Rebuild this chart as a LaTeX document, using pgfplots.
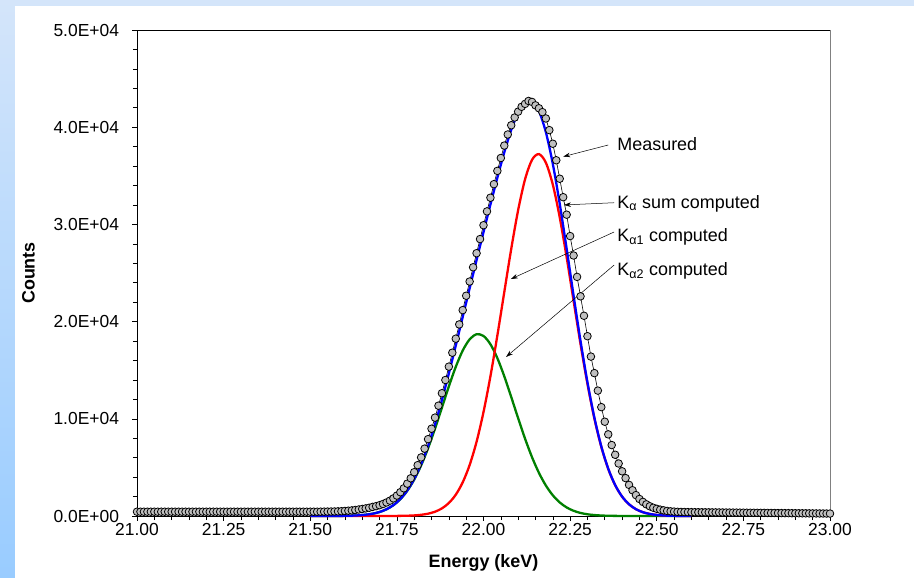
\documentclass[border=0pt]{standalone}
\usepackage{pgfplots}
\pgfplotsset{compat=1.18}
\usepackage{fontspec}
\setmainfont{Liberation Sans}
\usetikzlibrary{arrows.meta}
\definecolor{bgtop}{RGB}{212,229,250}
\definecolor{bgbot}{RGB}{153,204,255}
\definecolor{markgray}{RGB}{192,192,192}
\definecolor{cblue}{RGB}{0,0,255}
\definecolor{cred}{RGB}{255,0,0}
\definecolor{cgreen}{RGB}{0,128,0}
\begin{document}
\begin{tikzpicture}
\shade[top color=bgtop, bottom color=bgbot] (-137bp,-62bp) rectangle (777bp,516bp);
\fill[white] (-122bp,-62bp) rectangle (777bp,510bp);
\begin{axis}[
  at={(0,0)}, anchor=south west,
  scale only axis, width=693bp, height=486bp,
  xmin=21, xmax=23, ymin=0, ymax=50000,
  clip=false, scaled y ticks=false, scaled x ticks=false,
  xtick={21,21.25,21.5,21.75,22,22.25,22.5,22.75,23},
  xticklabels={21.00,21.25,21.50,21.75,22.00,22.25,22.50,22.75,23.00},
  ytick={0,10000,20000,30000,40000,50000},
  yticklabels={0.0E+00,1.0E+04,2.0E+04,3.0E+04,4.0E+04,5.0E+04},
  minor x tick num=4, minor y tick num=4,
  tick pos=left, tick align=outside,
  major tick length=4.5bp, minor tick length=4bp,
  tick style={black, line width=0.6bp},
  axis line style={black, line width=0.8bp},
  ticklabel style={font=\fontsize{17.5}{20}\selectfont},
  yticklabel style={xshift=-10bp},
  xticklabel style={yshift=1bp},
  xlabel={Energy (keV)}, ylabel={Counts},
  xlabel style={font=\bfseries\fontsize{18}{21}\selectfont, at={(axis description cs:0.5,-0.0967)}, anchor=center},
  ylabel style={font=\bfseries\fontsize{18}{21}\selectfont, at={(axis description cs:-0.1566,0.5)}, anchor=center},
]
% Measured
\addplot[black, line width=0.6bp, mark=*, mark size=3.8bp, mark options={fill=markgray, draw=black, line width=0.8bp}] coordinates {
(21.00,440) (21.01,440) (21.02,440) (21.03,440) (21.04,440) (21.05,440) (21.06,440) (21.07,440) (21.08,440) (21.09,440)
(21.10,440) (21.11,440) (21.12,440) (21.13,440) (21.14,440) (21.15,440) (21.16,440) (21.17,440) (21.18,440) (21.19,440)
(21.20,440) (21.21,440) (21.22,440) (21.23,440) (21.24,440) (21.25,440) (21.26,440) (21.27,440) (21.28,440) (21.29,440)
(21.30,440) (21.31,440) (21.32,440) (21.33,440) (21.34,440) (21.35,440) (21.36,440) (21.37,440) (21.38,440) (21.39,440)
(21.40,440) (21.41,440) (21.42,440) (21.43,440) (21.44,440) (21.45,440) (21.46,440) (21.47,440) (21.48,440) (21.49,440)
(21.50,440) (21.51,440) (21.52,440) (21.53,445) (21.54,450) (21.55,455)
(21.56,460) (21.57,465) (21.58,478) (21.59,492) (21.60,518) (21.61,546) (21.62,576) (21.63,620) (21.64,670) (21.65,726)
(21.66,781) (21.67,847) (21.68,936) (21.69,1013) (21.70,1111) (21.71,1235) (21.72,1390) (21.73,1580) (21.74,1814) (21.75,2100)
(21.76,2447) (21.77,2850) (21.78,3326) (21.79,3880) (21.80,4507) (21.81,5230) (21.82,6027) (21.83,6930) (21.84,7906) (21.85,8980)
(21.86,10121) (21.87,11350) (21.88,12632) (21.89,13990) (21.90,15367) (21.91,16800) (21.92,18242) (21.93,19710) (21.94,21181) (21.95,22660)
(21.96,24123) (21.97,25590) (21.98,27036) (21.99,28490) (22.00,29915) (22.01,31340) (22.02,32746) (22.03,34140) (22.04,35508) (22.05,36830)
(22.06,38111) (22.07,39250) (22.08,40200) (22.09,41000) (22.10,41600) (22.11,42100) (22.12,42400) (22.13,42700) (22.14,42600) (22.15,42250)
(22.16,41950) (22.17,41550) (22.18,40900) (22.19,39700) (22.20,38300) (22.21,36600) (22.22,34700) (22.23,32800) (22.24,31000) (22.25,28800)
(22.26,26800) (22.27,24600) (22.28,22600) (22.29,20600) (22.30,18500) (22.31,16400) (22.32,14700) (22.33,12900) (22.34,11200) (22.35,9700)
(22.36,8400) (22.37,7300) (22.38,6300) (22.39,5400) (22.40,4600) (22.41,3900) (22.42,3200) (22.43,2650) (22.44,2150) (22.45,1750)
(22.46,1450) (22.47,1200) (22.48,1000) (22.49,850) (22.50,740) (22.51,650) (22.52,580) (22.53,520) (22.54,480) (22.55,450)
(22.56,430) (22.57,418) (22.58,410) (22.59,402) (22.60,395) (22.61,390) (22.62,387) (22.63,383) (22.64,380) (22.65,376)
(22.66,373) (22.67,369) (22.68,366) (22.69,362) (22.70,358) (22.71,355) (22.72,351) (22.73,348) (22.74,344) (22.75,340)
(22.76,337) (22.77,333) (22.78,330) (22.79,326) (22.80,322) (22.81,319) (22.82,315) (22.83,312) (22.84,308) (22.85,304)
(22.86,301) (22.87,297) (22.88,294) (22.89,290) (22.90,286) (22.91,283) (22.92,279) (22.93,276) (22.94,272) (22.95,268)
(22.96,265) (22.97,261) (22.98,258) (22.99,254) (23.00,250)
};
% K alpha2 computed
\addplot[cgreen, line width=2.3bp, smooth, no marks] coordinates {
(21.50,0) (21.52,1) (21.54,2) (21.56,4) (21.58,8) (21.60,18) (21.62,36) (21.64,70) (21.66,131) (21.68,236)
(21.70,411) (21.72,690) (21.74,1114) (21.76,1733) (21.78,2597) (21.80,3746) (21.82,5204) (21.84,6969) (21.86,8982) (21.88,11150)
(21.90,13331) (21.92,15349) (21.94,17020) (21.96,18177) (21.98,18698) (22.00,18523) (22.02,17672) (22.04,16240) (22.06,14371) (22.08,12248)
(22.10,10054) (22.12,7948) (22.14,6052) (22.16,4438) (22.18,3134) (22.20,2132) (22.22,1397) (22.24,881) (22.26,535) (22.28,313)
(22.30,177) (22.32,96) (22.34,50) (22.36,25) (22.38,12) (22.40,6) (22.42,3) (22.44,1) (22.46,0) (22.50,0) (22.60,0)
};
% K alpha1 computed
\addplot[cred, line width=2.3bp, smooth, no marks] coordinates {
(21.50,0) (21.60,0) (21.66,0) (21.70,1) (21.72,3) (21.74,6) (21.76,14) (21.78,29) (21.80,61) (21.82,123) (21.84,237) (21.86,439) (21.88,782)
(21.90,1336) (21.92,2193) (21.94,3461) (21.96,5246) (21.98,7638) (22.00,10692) (22.02,14374) (22.04,18568) (22.06,23040) (22.08,27472)
(22.10,31475) (22.12,34645) (22.14,36640) (22.16,37233) (22.18,36350) (22.20,34097) (22.22,30727) (22.24,26608) (22.26,22135) (22.28,17693)
(22.30,13589) (22.32,10025) (22.34,7109) (22.36,4841) (22.38,3169) (22.40,1992) (22.42,1204) (22.44,699) (22.46,390) (22.48,209)
(22.50,108) (22.52,53) (22.54,25) (22.56,12) (22.58,5) (22.60,2)
};
% K alpha sum computed
\addplot[cblue, line width=2.3bp, smooth, no marks] coordinates {
(21.50,0) (21.52,1) (21.54,2) (21.56,4) (21.58,8) (21.60,18) (21.62,36) (21.64,70) (21.66,131) (21.68,236)
(21.70,412) (21.72,693) (21.74,1120) (21.76,1747) (21.78,2626) (21.80,3807) (21.82,5327) (21.84,7206) (21.86,9421) (21.88,11932)
(21.90,14667) (21.92,17542) (21.94,20481) (21.96,23423) (21.98,26336) (22.00,29215) (22.02,32046) (22.04,34808) (22.06,37411) (22.08,39720)
(22.10,41529) (22.12,42593) (22.14,42692) (22.16,41671) (22.18,39484) (22.20,36229) (22.22,32124) (22.24,27489) (22.26,22670) (22.28,18006)
(22.30,13766) (22.32,10121) (22.34,7159) (22.36,4866) (22.38,3181) (22.40,1998) (22.42,1207) (22.44,700) (22.46,390) (22.48,209)
(22.50,108) (22.52,53) (22.54,25) (22.56,12) (22.58,5) (22.60,2)
};
\draw[gray, line width=0.8bp] (axis cs:23,0) -- (axis cs:23,50000);
% annotations
\draw[black, line width=0.5bp, -{Stealth[length=7bp,width=4.5bp]}] (axis cs:22.360,38170) -- (axis cs:22.230,36970);
\draw[black, line width=0.5bp, -{Stealth[length=7bp,width=4.5bp]}] (axis cs:22.377,32230) -- (axis cs:22.232,32000);
\draw[black, line width=0.5bp, -{Stealth[length=7bp,width=4.5bp]}] (axis cs:22.377,29220) -- (axis cs:22.079,24380);
\draw[black, line width=0.5bp, -{Stealth[length=7bp,width=4.5bp]}] (axis cs:22.377,25820) -- (axis cs:22.065,16360);
\node[anchor=base west, inner sep=0pt, font=\fontsize{18}{21}\selectfont] at (axis cs:22.386,37580) {Measured};
\node[anchor=base west, inner sep=0pt, font=\fontsize{18}{21}\selectfont] at (axis cs:22.386,31660) {K\textsubscript{α} sum computed};
\node[anchor=base west, inner sep=0pt, font=\fontsize{18}{21}\selectfont] at (axis cs:22.386,28220) {K\textsubscript{α1} computed};
\node[anchor=base west, inner sep=0pt, font=\fontsize{18}{21}\selectfont] at (axis cs:22.386,24720) {K\textsubscript{α2} computed};
\end{axis}
\end{tikzpicture}
\end{document}
